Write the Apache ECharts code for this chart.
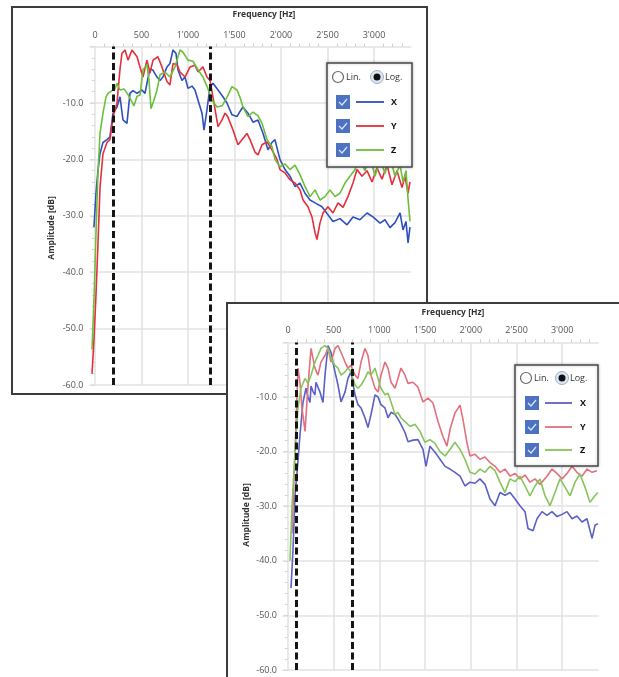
<!DOCTYPE html>
<html><head><meta charset="utf-8">
<script src="https://cdn.jsdelivr.net/npm/echarts@6/dist/echarts.min.js"></script>
<style>html,body{margin:0;padding:0;background:#fff}#c{width:619px;height:677px}</style>
</head><body><div id="c"></div>
<script>
// ---------- data ----------
const freqTicks = [0, 500, 1000, 1500, 2000, 2500, 3000];
const ampRange = [-60, 0];
const seriesNames = ['X', 'Y', 'Z'];
const radioLabels = ['Lin.', 'Log.'];

// panel 1 (upper-left screenshot)
const p1Cursors = [195, 1240];
const p1X = [[-11,-32],[11,-26],[32,-22],[54,-19],[86,-17],[129,-16.5],[161,-16],[194,-11.8],[237,-10.7],[269,-8.9],[301,-13],[344,-13.6],[376,-8.3],[409,-7.8],[452,-8.3],[505,-7.7],[538,-8.3],[559,-6.5],[591,-3.9],[624,-4.2],[667,-5.4],[699,-6],[731,-5.4],[774,-3.6],[806,-3],[839,-0.6],[871,-1.2],[892,-4.1],[935,-6],[968,-5.4],[1000,-7.4],[1043,-7],[1075,-7.7],[1108,-9.5],[1151,-11.8],[1172,-14.8],[1204,-11.2],[1237,-7.1],[1269,-6.5],[1323,-7.7],[1376,-8.9],[1419,-10],[1473,-12.1],[1527,-12.4],[1559,-11.5],[1591,-10.7],[1645,-11.8],[1699,-13.4],[1753,-13],[1807,-15.4],[1860,-18.3],[1903,-17],[1935,-16.5],[1989,-20],[2043,-21.8],[2097,-23],[2151,-24.8],[2204,-24.2],[2258,-26],[2312,-27.2],[2366,-27.7],[2441,-28.4],[2505,-29.8],[2559,-31],[2634,-30.5],[2710,-31.6],[2774,-30.2],[2849,-30.7],[2925,-29.5],[2989,-30.2],[3065,-31.3],[3118,-30.7],[3172,-32.1],[3226,-31.2],[3280,-29.5],[3312,-32.5],[3344,-31],[3366,-34.8],[3387,-32]];
const p1Y = [[-32,-58],[-11,-52],[11,-44],[32,-35],[54,-25],[86,-19],[129,-17],[161,-16.5],[194,-12.5],[237,-10],[269,-4],[290,-1.2],[323,-0.6],[355,-2.4],[398,-0.6],[452,-1.8],[484,-3.6],[516,-5.4],[559,-2.4],[591,-4.7],[624,-2.4],[677,-1.8],[720,-3.6],[774,-6.2],[806,-6.8],[839,-3],[882,-3.2],[914,-4.5],[968,-5.4],[1022,-3.6],[1075,-3.3],[1108,-4.5],[1161,-3.6],[1204,-5.4],[1237,-6],[1269,-9],[1323,-14.2],[1366,-13],[1398,-11.8],[1430,-12.5],[1484,-14.8],[1538,-17.4],[1581,-16.5],[1634,-15.4],[1667,-16.5],[1720,-18.7],[1753,-19.2],[1796,-17.4],[1850,-16.9],[1903,-18.3],[1957,-20],[1989,-21.8],[2043,-22.4],[2097,-23.6],[2151,-24.2],[2204,-25.4],[2237,-27.2],[2290,-28.4],[2333,-30.2],[2366,-33],[2387,-34.2],[2419,-31.3],[2452,-29.5],[2505,-28.4],[2559,-29.5],[2613,-27.7],[2667,-28.5],[2720,-26.6],[2774,-24.2],[2817,-21.8],[2871,-23],[2925,-22],[2979,-24],[3032,-21.5],[3086,-23.5],[3140,-21],[3194,-24.5],[3247,-22],[3301,-25],[3333,-23],[3366,-26],[3387,-24]];
const p1Z = [[-32,-53.7],[-11,-45],[11,-33],[32,-22.4],[54,-15.4],[86,-11.8],[118,-9],[140,-8.3],[183,-7.8],[215,-7.5],[237,-6.5],[269,-7.7],[312,-7.5],[355,-8.5],[387,-9.5],[419,-10.5],[452,-8.8],[484,-8.6],[516,-4.1],[559,-3.2],[581,-6],[602,-11],[634,-9.5],[667,-7.7],[699,-5],[753,-4.5],[806,-5.4],[860,-3.6],[914,-0.6],[946,-1],[1000,-2.4],[1054,-2.6],[1108,-4.1],[1161,-5.4],[1204,-7],[1258,-9.5],[1312,-10.7],[1366,-10.5],[1419,-9],[1473,-7.1],[1527,-7.7],[1559,-9],[1591,-10.7],[1645,-12.4],[1699,-11.6],[1753,-12.3],[1796,-13.6],[1850,-16.5],[1903,-17.7],[1935,-20],[1989,-21.3],[2043,-20.8],[2097,-21.8],[2151,-21],[2204,-22.7],[2258,-24.8],[2312,-26.6],[2366,-25.4],[2419,-27.2],[2473,-26.6],[2527,-25.4],[2581,-26.6],[2634,-26],[2688,-24.2],[2742,-23],[2796,-21.8],[2849,-20],[2903,-22],[2957,-19.5],[3011,-23],[3065,-20],[3118,-22.5],[3172,-19.5],[3226,-23],[3280,-21],[3312,-24],[3344,-22],[3366,-27],[3387,-31]];

// panel 2 (lower-right screenshot)
const p2Cursors = [85, 700];
const p2X = [[33,-45],[55,-38],[77,-28],[109,-21.8],[131,-17],[164,-11],[197,-8.4],[219,-10],[241,-11],[252,-8],[274,-9],[295,-9.6],[306,-7.3],[350,-9.1],[383,-11],[405,-6],[438,-0.6],[470,-1.8],[514,-5.4],[547,-7.8],[580,-10.9],[624,-9.1],[656,-6.6],[689,-5.4],[733,-9.6],[766,-11.4],[799,-12],[842,-13.8],[875,-15.6],[908,-13.2],[952,-9.6],[985,-10],[1017,-11.4],[1061,-12],[1094,-13.8],[1127,-12.8],[1171,-13.2],[1203,-14],[1236,-15],[1280,-16.5],[1313,-18.2],[1368,-17.9],[1422,-17.8],[1477,-19.6],[1510,-22.7],[1553,-19],[1608,-20.1],[1663,-21.4],[1718,-22.7],[1772,-23.2],[1827,-23.8],[1882,-24.5],[1936,-26.3],[1991,-25.6],[2046,-25.8],[2100,-25],[2155,-26],[2210,-28.7],[2265,-29.9],[2319,-27.5],[2374,-28],[2429,-27.5],[2484,-28.7],[2538,-29.9],[2593,-31],[2626,-34.1],[2680,-34.5],[2724,-32.3],[2779,-31],[2833,-31.7],[2888,-31],[2943,-31.9],[2998,-31.5],[3052,-31],[3107,-32.3],[3161,-31.8],[3216,-32.9],[3271,-32.3],[3326,-35.9],[3359,-33.5],[3391,-33.2]];
const p2Y = [[44,-35],[66,-25],[88,-15],[109,-4.7],[131,-7.3],[153,-12],[186,-16.3],[219,-8],[252,-1.1],[295,-4.7],[328,-6],[361,-3.6],[405,-2.4],[438,-1.1],[470,-3.6],[514,-1.1],[547,-0.6],[580,-1.8],[624,-3.6],[656,-4.7],[689,-4.2],[733,-6],[766,-6.6],[799,-3.6],[842,-1.1],[875,-2.4],[908,-6],[952,-8.4],[985,-9.1],[1017,-6],[1061,-3.6],[1094,-4.7],[1127,-7.3],[1171,-8.4],[1203,-6.6],[1236,-4.7],[1280,-6],[1313,-7.5],[1368,-7.3],[1422,-8.2],[1477,-10.9],[1532,-10.2],[1586,-11.1],[1641,-14.5],[1696,-17.3],[1739,-19],[1772,-16],[1827,-12.9],[1882,-11.5],[1915,-14.2],[1958,-18.4],[1991,-20.8],[2046,-20.5],[2100,-21.4],[2155,-21],[2210,-22],[2265,-22.7],[2319,-23.8],[2374,-23.2],[2429,-24.5],[2484,-24],[2538,-25],[2593,-24.3],[2647,-25.6],[2702,-25],[2757,-26],[2833,-24.5],[2888,-23.2],[2943,-24],[2998,-25],[3052,-24],[3107,-22.7],[3161,-23.8],[3216,-24.5],[3271,-23.2],[3326,-23.8],[3380,-23.5]];
const p2Z = [[22,-40],[44,-30],[77,-20],[109,-12],[142,-8.4],[186,-6.6],[219,-7.5],[252,-6],[295,-3.6],[328,-2.4],[361,-1.1],[405,-0.6],[438,-1.1],[470,-2.9],[514,-4.2],[547,-4.7],[580,-6],[624,-5.4],[656,-4.7],[689,-5.4],[733,-7.8],[766,-8.4],[799,-7.8],[842,-6.6],[875,-5.4],[908,-6],[952,-4.7],[985,-6.6],[1017,-8.4],[1061,-9.6],[1094,-9.3],[1127,-10.9],[1171,-13.2],[1203,-12.8],[1236,-13.8],[1280,-14.5],[1335,-15.4],[1389,-15],[1444,-16.3],[1499,-18.3],[1553,-17.8],[1608,-18.5],[1663,-20],[1718,-20.8],[1772,-19.6],[1827,-18.3],[1882,-19.6],[1936,-21.4],[1991,-23.8],[2046,-24.1],[2100,-23.2],[2155,-23.8],[2210,-22.7],[2265,-23.5],[2319,-25.6],[2374,-27.5],[2429,-25],[2484,-25.5],[2538,-24.5],[2593,-26.3],[2647,-28.1],[2702,-26.3],[2757,-25],[2812,-28.1],[2866,-29.9],[2921,-27.5],[2976,-25],[3030,-26.5],[3085,-28.1],[3140,-25.6],[3194,-24.1],[3249,-26.5],[3303,-29.3],[3358,-28.1],[3391,-27.5]];

// ---------- styling ----------
const FONT = '"Open Sans", "Noto Sans", sans-serif';
const p1Colors = ['#2f4fbf', '#e3303c', '#6cbf3a'];
const p2Colors = ['#5a60c6', '#e2707e', '#86c55a'];

function fmtHz(v) {
  if (v >= 1000) return Math.floor(v / 1000) + "'" + String(v % 1000).padStart(3, '0');
  return String(v);
}

function xAxisFor(gi, z) {
  return {
    gridIndex: gi, type: 'value', position: 'top', min: -60, max: 3400, z: z,
    axisLine: { show: false },
    axisTick: { show: false, customValues: freqTicks },
    minorTick: { show: true, splitNumber: 5, length: 3, lineStyle: { color: '#cfcfcf', width: 1 } },
    axisLabel: { customValues: freqTicks, formatter: fmtHz, color: '#555', fontSize: 9, fontFamily: FONT, margin: 7 },
    splitLine: { show: true, lineStyle: { color: '#e2e2e2', width: 1.5 } }
  };
}
function yAxisFor(gi, z, margin) {
  return {
    gridIndex: gi, type: 'value', min: ampRange[0], max: ampRange[1], interval: 10, z: z,
    axisLine: { show: false },
    axisTick: { show: true, length: 4, lineStyle: { color: '#d8d8d8' } },
    minorTick: { show: true, splitNumber: 5, length: 3, lineStyle: { color: '#d4d4d4' } },
    axisLabel: { formatter: v => v === 0 ? '' : v.toFixed(1), color: '#555', fontSize: 9, fontFamily: FONT, margin: margin },
    splitLine: { show: true, lineStyle: { color: '#e2e2e2', width: 1.5 } }
  };
}
function lineSeries(name, data, color, gi, z) {
  return {
    name: name, type: 'line', xAxisIndex: gi, yAxisIndex: gi, data: data, z: z,
    showSymbol: false, symbol: 'none', animation: false, silent: true,
    lineStyle: { color: color, width: 1.6 }
  };
}
function cursorSeries(cursors, gi, z) {
  return {
    type: 'line', xAxisIndex: gi, yAxisIndex: gi, data: [], z: z, animation: false, silent: true,
    markLine: {
      z: z, silent: true, symbol: 'none', animation: false, label: { show: false },
      lineStyle: { color: '#151515', width: 3, type: [7, 3.5] },
      data: cursors.map(c => ({ xAxis: c }))
    }
  };
}

function legendBox(L, colors, z) {
  const els = [];
  els.push({ type: 'rect', z: z, shape: { x: L.x, y: L.y, width: L.w, height: L.h },
    style: { fill: '#fff', stroke: '#4a4a4a', lineWidth: 1.5, shadowBlur: 3, shadowColor: 'rgba(0,0,0,0.25)' } });
  els.push({ type: 'circle', z: z + 1, shape: { cx: L.r1x, cy: L.ry, r: 5.5 }, style: { fill: '#fff', stroke: '#666', lineWidth: 1.2 } });
  els.push({ type: 'circle', z: z + 1, shape: { cx: L.r2x, cy: L.ry, r: 6.5 }, style: { fill: '#dbe6f3', stroke: '#9fb0c4', lineWidth: 1 } });
  els.push({ type: 'circle', z: z + 2, shape: { cx: L.r2x, cy: L.ry, r: 3.5 }, style: { fill: '#111' } });
  els.push({ type: 'text', z: z + 1, x: L.r1x + 8, y: L.ry, style: { text: radioLabels[0], font: '9px ' + FONT, fill: '#333', verticalAlign: 'middle' } });
  els.push({ type: 'text', z: z + 1, x: L.r2x + 8, y: L.ry, style: { text: radioLabels[1], font: '9px ' + FONT, fill: '#333', verticalAlign: 'middle' } });
  L.rows.forEach((cy, i) => {
    const cx = L.cbx;
    els.push({ type: 'rect', z: z + 1, shape: { x: cx - 7, y: cy - 7, width: 14, height: 14 }, style: { fill: '#4d72c4' } });
    els.push({ type: 'polyline', z: z + 2, shape: { points: [[cx - 4, cy], [cx - 1, cy + 3], [cx + 4, cy - 3]] }, style: { stroke: '#dce6f7', lineWidth: 1.2, fill: null } });
    els.push({ type: 'line', z: z + 1, shape: { x1: L.lx1, y1: cy, x2: L.lx2, y2: cy }, style: { stroke: colors[i], lineWidth: 1.8 } });
    els.push({ type: 'text', z: z + 1, x: L.tx, y: cy, style: { text: seriesNames[i], font: 'bold 9px ' + FONT, fill: '#111', verticalAlign: 'middle' } });
  });
  return els;
}

const graphics = [
  { type: 'rect', z: 5, shape: { x: 12, y: 7, width: 415, height: 387 }, style: { fill: null, stroke: '#3c3c3c', lineWidth: 2 } },
  { type: 'text', z: 5, x: 264, y: 15, style: { text: 'Frequency [Hz]', font: 'bold 8.5px ' + FONT, fill: '#333', align: 'center', verticalAlign: 'middle' } },
  { type: 'text', z: 5, x: 52, y: 228, rotation: Math.PI / 2, style: { text: 'Amplitude [dB]', font: 'bold 8.5px ' + FONT, fill: '#333', align: 'center', verticalAlign: 'middle' } },
  ...legendBox({ x: 327, y: 63, w: 85, h: 104, r1x: 338, r2x: 377, ry: 77, cbx: 343, rows: [102, 126, 150], lx1: 356, lx2: 384, tx: 391 }, p1Colors, 6),
  { type: 'rect', z: 10, shape: { x: 227, y: 303, width: 420, height: 420 }, style: { fill: '#fff', stroke: '#3c3c3c', lineWidth: 2 } },
  { type: 'text', z: 11, x: 453, y: 313, style: { text: 'Frequency [Hz]', font: 'bold 8.5px ' + FONT, fill: '#333', align: 'center', verticalAlign: 'middle' } },
  { type: 'text', z: 11, x: 247, y: 515, rotation: Math.PI / 2, style: { text: 'Amplitude [dB]', font: 'bold 8.5px ' + FONT, fill: '#333', align: 'center', verticalAlign: 'middle' } },
  ...legendBox({ x: 515, y: 365, w: 83, h: 101, r1x: 526, r2x: 562, ry: 378, cbx: 532, rows: [403, 427, 450], lx1: 545, lx2: 572, tx: 580 }, p2Colors, 20)
];

const option = {
  backgroundColor: '#fff',
  animation: false,
  grid: [
    { left: 89.4, top: 46.6, width: 321.8, height: 338.4 },
    { left: 282.5, top: 342.4, width: 316.3, height: 327.6 }
  ],
  xAxis: [xAxisFor(0, 0), xAxisFor(1, 11)],
  yAxis: [yAxisFor(0, 0, 6), yAxisFor(1, 11, 5.5)],
  series: [
    lineSeries('X', p1X, p1Colors[0], 0, 2),
    lineSeries('Y', p1Y, p1Colors[1], 0, 2),
    lineSeries('Z', p1Z, p1Colors[2], 0, 2),
    cursorSeries(p1Cursors, 0, 3),
    lineSeries('X', p2X, p2Colors[0], 1, 12),
    lineSeries('Y', p2Y, p2Colors[1], 1, 12),
    lineSeries('Z', p2Z, p2Colors[2], 1, 12),
    cursorSeries(p2Cursors, 1, 13)
  ],
  graphic: { elements: graphics }
};

const chart = echarts.init(document.getElementById('c'), null, { renderer: 'canvas' });
chart.setOption(option);
</script>
</body></html>
